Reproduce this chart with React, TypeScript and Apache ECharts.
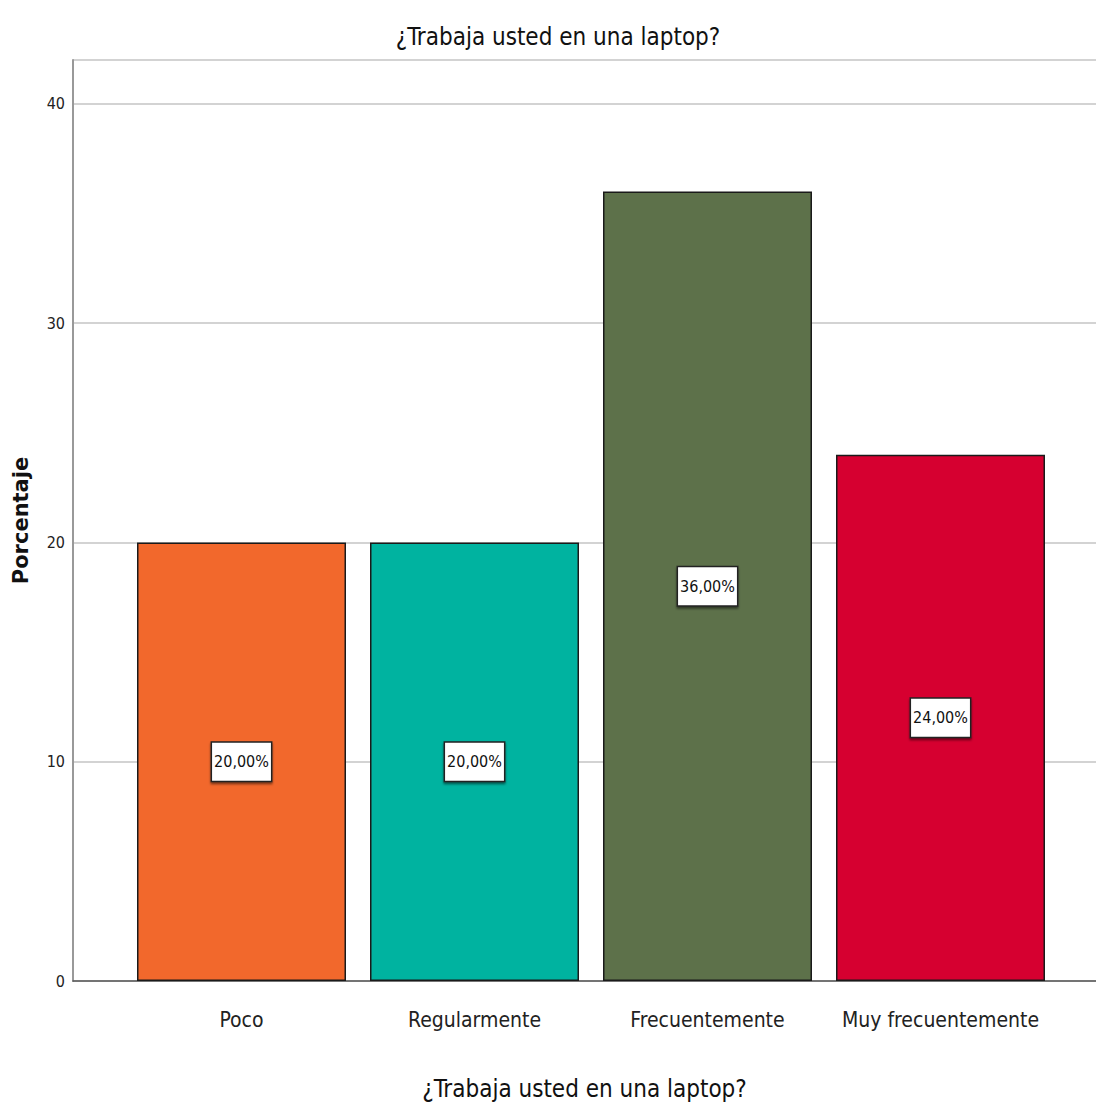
import React, { useEffect, useRef } from "react";
import * as echarts from "echarts";

const categories = ["Poco", "Regularmente", "Frecuentemente", "Muy frecuentemente"];
const percentages = [20, 20, 36, 24];
const barColors = ["#F2682C", "#00B3A0", "#5D714A", "#D60030"];
const titleText = "¿Trabaja usted en una laptop?";
const yAxisName = "Porcentaje";
const narrow = "'DejaVu Sans Condensed', 'Liberation Sans Narrow', sans-serif";

export default function App() {
  const ref = useRef<HTMLDivElement>(null);
  useEffect(() => {
    document.body.style.margin = "0";
    const chart = echarts.init(ref.current!, null, { renderer: "svg" });
    const top = 60;
    const bottom = 132;
    chart.setOption({
      animation: false,
      backgroundColor: "#ffffff",
      title: {
        text: titleText,
        left: 553,
        textAlign: "center",
        top: 20,
        textStyle: { fontFamily: narrow, fontSize: 24, fontWeight: "normal", color: "#111" },
      },
      grid: [
        { left: 73, right: 0, top, bottom, outerBoundsMode: "none", containLabel: false },
        { left: 125, width: 932, top, bottom, outerBoundsMode: "none", containLabel: false },
      ],
      xAxis: [
        {
          type: "category",
          gridIndex: 0,
          data: categories,
          axisLine: { lineStyle: { color: "#555", width: 1.5 } },
          axisTick: { show: false },
          axisLabel: { show: false },
          name: titleText,
          nameLocation: "middle",
          nameGap: 96,
          nameTextStyle: { fontFamily: narrow, fontSize: 24, color: "#111" },
        },
        {
          type: "category",
          gridIndex: 1,
          data: categories,
          axisLine: { show: false },
          axisTick: { show: false },
          axisLabel: { fontFamily: narrow, fontSize: 21, color: "#222", margin: 28, interval: 0 },
        },
      ],
      yAxis: [
        {
          type: "value",
          gridIndex: 0,
          min: 0,
          max: 42,
          interval: 10,
          axisLine: { show: true, lineStyle: { color: "#999", width: 2 } },
          axisTick: { show: false },
          splitLine: { lineStyle: { color: "#d3d3d3", width: 2 } },
          axisLabel: {
            fontFamily: narrow,
            fontSize: 16,
            color: "#222",
            margin: 8,
            showMaxLabel: false,
            formatter: (v: number) => (v % 10 === 0 ? String(v) : ""),
          },
          name: yAxisName,
          nameLocation: "middle",
          nameGap: 42,
          nameTextStyle: { fontFamily: "'DejaVu Sans', sans-serif", fontSize: 21, fontWeight: "bold", color: "#111" },
        },
        {
          type: "value",
          gridIndex: 1,
          min: 0,
          max: 42,
          interval: 10,
          show: false,
          splitLine: { show: false },
        },
      ],
      series: [
        {
          type: "bar",
          xAxisIndex: 1,
          yAxisIndex: 1,
          barWidth: 209,
          data: percentages.map((v, i) => ({
            value: v,
            itemStyle: { color: barColors[i], borderColor: "#1a1a1a", borderWidth: 1.5 },
          })),
          label: {
            show: true,
            position: "inside",
            formatter: (p: any) => p.value.toFixed(2).replace(".", ",") + "%",
            fontFamily: narrow,
            fontSize: 16,
            color: "#111",
            backgroundColor: "#ffffff",
            borderColor: "#222",
            borderWidth: 1.5,
            padding: [12, 2, 10, 2],
            shadowColor: "rgba(0,0,0,0.5)",
            shadowOffsetY: 2,
            shadowBlur: 2,
          },
        },
      ],
    });
    return () => chart.dispose();
  }, []);
  return <div ref={ref} style={{ width: 1096, height: 1113 }} />;
}
